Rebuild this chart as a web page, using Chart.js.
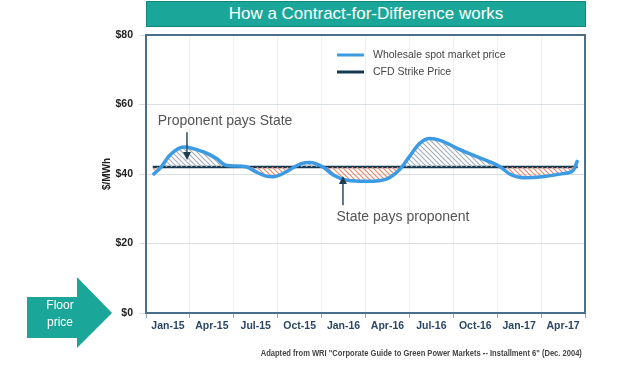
<!DOCTYPE html>
<html>
<head>
<meta charset="utf-8">
<script src="https://cdn.jsdelivr.net/npm/chart.js@4.4.0/dist/chart.umd.min.js"></script>
<style>
  html, body { margin: 0; padding: 0; background: #fff; }
  #wrap { position: relative; width: 629px; height: 375px; overflow: hidden; font-family: 'Liberation Sans', Arial, sans-serif; }
  #chart { position: absolute; left: 0; top: 0; }
  .title { position: absolute; left: 146px; top: 1px; width: 438px; height: 24px; background: #1aa79a; border: 1px solid #10887c;
           color: #fff; font-size: 17px; line-height: 24px; text-align: center; }
  .note { position: absolute; right: 47px; top: 348px; font-family: 'Liberation Sans Narrow', 'Liberation Sans', Arial; font-weight: bold;
          font-size: 8.5px; color: #444; white-space: nowrap; transform: scaleX(0.89); transform-origin: right center; }
  svg.floor { position: absolute; left: 0; top: 270px; }
</style>
</head>
<body>
<div id="wrap">
  <canvas id="chart" width="629" height="375"></canvas>
  <div class="title">How a Contract-for-Difference works</div>
  <svg class="floor" width="120" height="84">
    <polygon points="27,27 77,27 77,7 112,43 77,78 77,68 27,68" fill="#1aa79a"/>
    <text x="60" y="39" fill="#fff" font-size="12" text-anchor="middle" font-family="Liberation Sans, Arial">Floor</text>
    <text x="60" y="56" fill="#fff" font-size="12" text-anchor="middle" font-family="Liberation Sans, Arial">price</text>
  </svg>
  <div class="note">Adapted from WRI "Corporate Guide to Green Power Markets -- Installment 6" (Dec. 2004)</div>
</div>
<script>
// quarter labels, x measured in months from the start of Jan-15
const QUARTERS = ['Jan-15', 'Apr-15', 'Jul-15', 'Oct-15', 'Jan-16', 'Apr-16', 'Jul-16', 'Oct-16', 'Jan-17', 'Apr-17'];
const Y_TICKS = [0, 20, 40, 60, 80];

const SPOT_X = [0.46, 1.03, 1.64, 2.6, 3.9, 4.8, 5.47, 6.15, 6.84, 7.52, 8.2, 8.68, 9.57, 10.05, 10.6, 11.2,
                12.1, 12.8, 13.74, 15.1, 16.5, 17.4, 18.0, 18.7, 19.4, 20.1, 21.3, 22.35, 23.5, 24.2, 24.9,
                26.0, 27.1, 28.5, 29.2, 29.5];
const SPOT_PRICE = [39.7, 42, 45.5, 47.8, 46.4, 44.5, 42.5, 42.3, 42.1, 40.6, 39.4, 39.2, 40.6, 41.8, 43.0, 43.3,
                    42, 39.7, 38.2, 37.9, 38.7, 41.6, 45, 48.8, 50.2, 49.7, 47.3, 45.4, 43.5, 42.1, 39.9,
                    38.9, 39.2, 40.1, 41.1, 44];
const STRIKE_PRICE = 42;

const NOTES = [
  { text: 'Proponent pays State', x: 5.4, y: 55.2, arrowX: 2.8, from: 52, to: 44 },
  { text: 'State pays proponent', x: 17.56, y: 27.6, arrowX: 13.46, from: 31, to: 39.4 },
];

const SPOT_COLOR = '#3d9be3';
const STRIKE_COLOR = '#17394f';
const FRAME = '#4a6f8c';
const NARROW = "'Liberation Sans Narrow', 'Liberation Sans', Arial, sans-serif";

function hatch(color) {
  const c = document.createElement('canvas');
  c.width = 5; c.height = 5;
  const g = c.getContext('2d');
  g.strokeStyle = color; g.lineWidth = 1.1;
  g.beginPath();
  g.moveTo(-1, -1); g.lineTo(6, 6);
  g.moveTo(-1, 4); g.lineTo(1, 6);
  g.moveTo(4, -1); g.lineTo(6, 1);
  g.stroke();
  return g.createPattern(c, 'repeat');
}

// frame box, in-plot legend and the two call-outs
const extras = {
  id: 'extras',
  beforeDatasetsDraw(chart) {
    const { ctx, chartArea: a } = chart;
    ctx.save();
    ctx.strokeStyle = FRAME; ctx.lineWidth = 2;
    ctx.strokeRect(a.left, a.top, a.right - a.left, a.bottom - a.top);
    ctx.restore();
  },
  afterDatasetsDraw(chart) {
    const { ctx, chartArea: a, scales: { x, y } } = chart;
    ctx.save();
    // legend
    chart.data.datasets.forEach((ds, i) => {
      const ly = a.top + 20 + i * 17;
      ctx.strokeStyle = ds.borderColor; ctx.lineWidth = 3;
      ctx.beginPath(); ctx.moveTo(a.left + 191, ly); ctx.lineTo(a.left + 218, ly); ctx.stroke();
      ctx.fillStyle = '#444'; ctx.font = "10.5px 'Liberation Sans', Arial";
      ctx.textBaseline = 'middle'; ctx.textAlign = 'left';
      ctx.fillText(ds.label, a.left + 227, ly);
    });
    // call-outs
    NOTES.forEach(n => {
      ctx.fillStyle = '#555'; ctx.font = "14px 'Liberation Sans', Arial";
      ctx.textAlign = 'center'; ctx.textBaseline = 'middle';
      ctx.fillText(n.text, x.getPixelForValue(n.x), y.getPixelForValue(n.y));
      const ax = x.getPixelForValue(n.arrowX);
      const y0 = y.getPixelForValue(n.from), y1 = y.getPixelForValue(n.to);
      const dir = y1 > y0 ? 1 : -1;
      ctx.strokeStyle = '#2d4a5e'; ctx.lineWidth = 1.5;
      ctx.beginPath(); ctx.moveTo(ax, y0); ctx.lineTo(ax, y1 - dir * 6); ctx.stroke();
      ctx.fillStyle = '#1f3d52';
      ctx.beginPath(); ctx.moveTo(ax, y1); ctx.lineTo(ax - 4, y1 - dir * 8); ctx.lineTo(ax + 4, y1 - dir * 8); ctx.closePath(); ctx.fill();
    });
    ctx.restore();
  }
};

new Chart(document.getElementById('chart'), {
  type: 'line',
  data: {
    datasets: [
      {
        label: 'Wholesale spot market price',
        data: SPOT_X.map((v, i) => ({ x: v, y: SPOT_PRICE[i] })),
        borderColor: SPOT_COLOR, borderWidth: 3.5,
        cubicInterpolationMode: 'monotone', pointRadius: 0,
        fill: { target: 1, above: hatch('#a3acb5'), below: hatch('#f08466') },
      },
      {
        label: 'CFD Strike Price',
        data: SPOT_X.map(v => ({ x: v, y: STRIKE_PRICE })),
        borderColor: STRIKE_COLOR, borderWidth: 2.5, pointRadius: 0, fill: false,
      },
    ]
  },
  options: {
    responsive: false, animation: false,
    layout: { padding: { left: 100, right: 44, top: 35, bottom: 42 } },
    plugins: { legend: { display: false }, tooltip: { enabled: false } },
    scales: {
      x: {
        type: 'linear', min: 0, max: 30,
        afterBuildTicks: s => { s.ticks = QUARTERS.map((q, i) => ({ value: 1.5 + 3 * i })); },
        afterFit: s => { s.height = 20; },
        ticks: { autoSkip: false, maxRotation: 0, padding: 2, color: '#2b4766',
                 font: { family: NARROW, size: 10.5, weight: 'bold' },
                 callback: (v, i) => QUARTERS[i] },
        grid: { offset: true, color: '#eef1f4', tickColor: '#9aa7b3', tickLength: 5 },
        border: { display: false },
      },
      y: {
        min: 0, max: 80,
        afterBuildTicks: s => { s.ticks = Y_TICKS.map(v => ({ value: v })); },
        afterFit: s => { s.width = 46; },
        ticks: { padding: 6, color: '#222', font: { family: NARROW, size: 10.5, weight: 'bold' },
                 callback: v => '$' + v },
        grid: { color: '#d9dee3', tickColor: '#d9dee3', tickLength: 7 },
        border: { display: false },
        title: { display: true, text: '$/MWh', color: '#222', padding: { top: 1, bottom: 0 },
                 font: { family: NARROW, size: 10, weight: 'bold' } },
      }
    }
  },
  plugins: [extras]
});
</script>
</body>
</html>
